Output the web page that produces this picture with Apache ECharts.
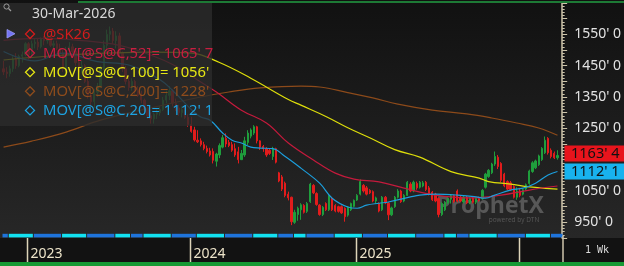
<!DOCTYPE html>
<html><head><meta charset="utf-8">
<script src="https://cdn.jsdelivr.net/npm/echarts@6/dist/echarts.min.js"></script>
<style>html,body{margin:0;padding:0;background:#161616;}#c{width:624px;height:266px;}</style>
</head><body><div id="c"></div>
<script>
// ---------- DATA ----------
const startDate = [2022, 10, 7]; // first weekly bar (UTC y, m0, d)
const opens = [
1440,1430,1425,1440,1470,1450,1480,1485,1520,1485,
1520,1525,1510,1535,1530,1540,1515,1520,1505,1490,
1440,1500,1510,1495,1460,1430,1450,1400,1355,1335,
1365,1385,1440,1515,1550,1560,1530,1545,1490,1440,
1400,1380,1400,1370,1355,1340,1310,1290,1280,1295,
1300,1310,1340,1355,1370,1330,1315,1300,1310,1285,
1262,1245,1212,1210,1198,1186,1178,1176,1145,1165,
1190,1218,1205,1198,1185,1175,1150,1165,1205,1225,
1235,1255,1210,1192,1185,1180,1160,1185,1108,1095,
1075,1040,1030,950,975,990,1004,985,1016,1068,
1042,1005,975,1010,990,1026,1004,1000,1000,995,
973,990,1001,1021,1040,1068,1060,1052,1048,1018,
1010,990,1030,1011,974,1000,1030,1050,1018,1036,
1072,1050,1074,1062,1066,1078,1060,1046,1040,1026,
975,990,1012,1024,1035,1050,1030,1015,1030,1012,
1028,1014,1026,1025,1062,1096,1108,1136,1158,1138,
1104,1080,1076,1064,1030,1050,1040,1056,1074,1112,
1124,1134,1150,1172,1218,1180,1170,1156];
const highs = [
1465,1445,1450,1480,1490,1485,1495,1525,1525,1530,
1535,1535,1540,1545,1545,1545,1530,1530,1520,1500,
1510,1525,1520,1500,1470,1465,1455,1410,1365,1375,
1395,1450,1530,1565,1575,1570,1560,1555,1495,1450,
1420,1410,1405,1385,1370,1345,1320,1300,1300,1310,
1320,1350,1370,1385,1375,1345,1325,1320,1320,1295,
1287,1255,1244,1218,1207,1195,1188,1186,1172,1202,
1229,1234,1213,1207,1202,1191,1181,1223,1244,1250,
1260,1258,1212,1197,1190,1186,1191,1188,1111,1101,
1080,1048,1032,990,1000,1011,1008,1015,1076,1072,
1046,1008,1002,1014,1040,1030,1008,1003,1004,998,
1002,1013,1023,1040,1087,1072,1066,1056,1052,1032,
1014,1034,1034,1014,1000,1034,1056,1054,1040,1082,
1078,1083,1080,1082,1082,1082,1066,1050,1044,1030,
1014,1018,1030,1040,1038,1055,1035,1034,1034,1030,
1034,1030,1032,1056,1108,1120,1140,1176,1165,1142,
1108,1084,1082,1068,1062,1060,1058,1074,1118,1145,
1150,1166,1190,1224,1222,1186,1176,1180];
const lows = [
1420,1410,1415,1430,1440,1445,1460,1480,1470,1480,
1505,1500,1505,1515,1520,1510,1505,1500,1480,1430,
1435,1495,1490,1450,1425,1425,1395,1345,1320,1315,
1350,1380,1435,1490,1530,1520,1505,1480,1430,1390,
1370,1370,1360,1350,1330,1300,1280,1265,1265,1280,
1290,1305,1330,1340,1320,1305,1290,1285,1280,1255,
1236,1208,1203,1192,1180,1170,1160,1138,1128,1155,
1186,1190,1190,1175,1159,1138,1149,1159,1197,1218,
1229,1202,1181,1175,1159,1165,1149,1138,1078,1050,
1030,1020,941,945,955,958,978,980,1012,1040,
1003,971,970,986,986,986,982,981,977,952,
968,986,998,1018,1036,1045,1036,1040,1014,1010,
982,986,1008,957,970,996,1026,1012,1014,1034,
1046,1046,1054,1058,1062,1050,1036,1018,1014,966,
970,986,1008,1010,1012,1014,1014,1010,1008,1008,
1010,1008,1016,1022,1058,1092,1104,1130,1120,1078,
1062,1052,1050,1026,1022,1030,1036,1052,1070,1108,
1120,1130,1146,1168,1166,1154,1152,1150];
const closes = [
1430,1425,1440,1470,1450,1480,1485,1520,1485,1520,
1525,1510,1535,1530,1540,1515,1520,1505,1490,1440,
1500,1510,1495,1460,1430,1450,1400,1355,1335,1365,
1385,1440,1515,1550,1560,1530,1545,1490,1440,1400,
1380,1400,1370,1355,1340,1310,1290,1280,1295,1300,
1310,1340,1355,1370,1330,1315,1300,1310,1285,1262,
1240,1213,1207,1198,1186,1176,1165,1148,1168,1195,
1220,1200,1195,1180,1165,1150,1170,1210,1235,1245,
1255,1210,1190,1185,1165,1170,1185,1142,1082,1056,
1036,1028,952,982,995,1006,982,1010,1072,1044,
1007,975,998,990,1036,990,986,985,980,968,
999,1010,1020,1036,1080,1050,1040,1044,1018,1028,
986,1030,1012,974,996,1030,1050,1016,1036,1078,
1050,1078,1060,1078,1076,1055,1040,1022,1018,975,
1010,1014,1026,1035,1016,1018,1018,1030,1012,1026,
1014,1026,1020,1052,1104,1116,1136,1160,1128,1084,
1066,1056,1054,1030,1050,1036,1054,1070,1114,1140,
1146,1162,1186,1212,1172,1160,1156,1163.5];

// moving averages: [week index, value]
const ma52 = [[0,1531],[12,1537],[24,1531],[37,1515],[47,1484],[55,1449],[60,1417],[68,1366],[76,1308],[84,1267],[91,1203],[99,1149],[106,1107],[112,1088],[120,1079],[128,1059],[138,1037],[149,1028],[159,1037],[168,1053],[177,1065.875]];
const ma100 = [[0,1468],[20,1484],[47,1493],[60,1490],[69,1460],[79,1410],[91,1342],[95,1324],[103,1288],[110,1252],[117,1220],[125,1182],[133,1158],[143,1112],[152,1091],[155,1080],[162,1072],[168,1063],[177,1056]];
const ma200 = [[0,1190],[9,1209],[20,1238],[31,1276],[47,1315],[63,1350],[72,1366],[82,1379],[95,1385],[101,1382],[110,1364],[118,1347],[126,1327],[137,1308],[148,1296],[156,1283],[164,1267],[171,1251],[177,1228]];
const ma20 = [[0,1495],[10,1465],[19,1490],[30,1463],[40,1452],[50,1405],[55,1361],[60,1310],[63,1286],[66,1276],[70,1235],[73,1212],[76,1203],[79,1190],[82,1187],[86,1185],[90,1160],[95,1123],[101,1075],[105,1027],[110,999],[113,995],[116,1005],[120,1011],[123,1015],[130,1031],[133,1037],[138,1040],[145,1037],[151,1031],[154,1027],[157,1037],[162,1053],[166,1059],[170,1075],[174,1101],[177,1112.125]];

// contract strip boundaries (week index) and year starts
const stripBounds = [0,2,10,19,27,36,41,45,54,62,71,80,88,93,97,106,115,123,132,141,145,149,158,167,175,179];
const yearStarts = [8,60,113,165];
const yearLabels = ['2023','2024','2025',''];
const symbolName = '@SK26';
const maNames = ['MOV[@S@C,52]','MOV[@S@C,100]','MOV[@S@C,200]','MOV[@S@C,20]'];
const periodLabel = '1 Wk';

// ---------- BUILD ----------
const N = closes.length;
const categories = [];
const t0 = Date.UTC(startDate[0], startDate[1], startDate[2]);
for (let i = 0; i <= N; i++) categories.push(new Date(t0 + i * 7 * 86400000).toISOString().slice(0, 10));
const candles = closes.map((c, i) => [opens[i], c, lows[i], highs[i]]);
const MON = ['Jan','Feb','Mar','Apr','May','Jun','Jul','Aug','Sep','Oct','Nov','Dec'];
const lastDate = new Date(categories[N - 1] + 'T00:00:00Z');
const dateText = String(lastDate.getUTCDate()).padStart(2,'0') + '-' + MON[lastDate.getUTCMonth()] + '-' + lastDate.getUTCFullYear();
function q(v, keepZero) {
  const w = Math.floor(v + 1e-9); const e = Math.round((v - w) * 8);
  if (e === 0 && !keepZero) return w + "'";
  return w + "' " + e;
}
const FONT = '"Noto Sans","DejaVu Sans",sans-serif';
const UP = '#1f9e3c', DOWN = '#e21c1c';
const C52 = '#c41a3c', C100 = '#dede0a', C200 = '#8c4a1a', C20 = '#1c9edc';
const AXC = '#cfc6ac';

const chart = echarts.init(document.getElementById('c'), null, {renderer: 'canvas', width: 624, height: 266});
const GL = 2, GW = 561;
const option = {
  animation: false,
  backgroundColor: '#161616',
  grid: [
    {left: GL, top: 3, width: GW, height: 235},
    {left: GL, top: 233.8, width: GW, height: 3.6},
    {left: GL, top: 238, width: GW, height: 24}
  ],
  xAxis: [
    {type: 'category', gridIndex: 0, data: categories, boundaryGap: true, show: false},
    {type: 'value', gridIndex: 1, min: 0, max: N + 1, show: false},
    {type: 'value', gridIndex: 2, min: 0, max: N + 1, interval: 1, position: 'top',
      axisLine: {show: false}, axisTick: {show: true, inside: true, length: 2, lineStyle: {color: '#808080'}},
      axisLabel: {show: false}, splitLine: {show: false}}
  ],
  yAxis: [
    {type: 'value', gridIndex: 0, position: 'right', min: 900, max: 1650, interval: 50,
      axisLine: {show: true, lineStyle: {color: AXC, width: 1.5}},
      axisTick: {show: true, length: 5, lineStyle: {color: AXC}},
      minorTick: {show: true, splitNumber: 5, length: 2.5, lineStyle: {color: AXC}},
      splitLine: {show: false},
      axisLabel: {margin: 12, color: '#e2e2e2', fontFamily: FONT, fontSize: 14,
        formatter: v => (v % 100 === 50 && v !== 1150 && v !== 1650) ? q(v, true) : ''}},
    {type: 'value', gridIndex: 1, min: 0, max: 1, show: false},
    {type: 'value', gridIndex: 2, min: 0, max: 1, show: false}
  ],
  series: [
    {type: 'candlestick', name: symbolName, xAxisIndex: 0, yAxisIndex: 0, data: candles, barWidth: 1.8, z: 2,
      itemStyle: {color: UP, color0: DOWN, borderColor: UP, borderColor0: DOWN, borderWidth: 1}},
    {type: 'line', name: maNames[2], data: ma200, smooth: 0.4, showSymbol: false, z: 3, lineStyle: {color: C200, width: 1.2}},
    {type: 'line', name: maNames[1], data: ma100, smooth: 0.4, showSymbol: false, z: 3, lineStyle: {color: C100, width: 1.2}},
    {type: 'line', name: maNames[0], data: ma52, smooth: 0.4, showSymbol: false, z: 3, lineStyle: {color: C52, width: 1.2}},
    {type: 'line', name: maNames[3], data: ma20, smooth: 0.4, showSymbol: false, z: 3, lineStyle: {color: C20, width: 1.2}},
    {type: 'custom', xAxisIndex: 1, yAxisIndex: 1, z: 5,
      data: stripBounds.slice(0, -1).map((s, k) => [s, stripBounds[k + 1], k % 2]),
      encode: {x: [0, 1]},
      renderItem: (params, api) => {
        const a = api.coord([api.value(0), 0]);
        const b = api.coord([api.value(1), 1]);
        return {type: 'rect', shape: {x: a[0] + 0.5, y: b[1], width: b[0] - a[0] - 1, height: a[1] - b[1]},
          style: {fill: api.value(2) === 0 ? '#1e74dc' : '#12e2f2'}};
      }},
    {type: 'custom', xAxisIndex: 2, yAxisIndex: 2, z: 5,
      data: yearStarts.map((s, k) => [s, k]),
      encode: {x: 0},
      renderItem: (params, api) => {
        const a = api.coord([api.value(0), 0]);
        const b = api.coord([api.value(0), 1]);
        const x = Math.round(a[0]) + 0.5;
        return {type: 'group', children: [
          {type: 'line', shape: {x1: x, y1: b[1], x2: x, y2: a[1]}, style: {stroke: '#ddd4b8', lineWidth: 1.5}},
          {type: 'text', style: {text: yearLabels[api.value(1)], x: x + 3, y: (a[1] + b[1]) / 2 + 4,
            fill: '#ece3c8', font: '14px ' + FONT, verticalAlign: 'middle'}}
        ]};
      }}
  ]
};
chart.setOption(option);

// ---------- OVERLAYS ----------
const lastClose = closes[N - 1];
const ma20Last = ma20[ma20.length - 1][1];
const yBlue = chart.convertToPixel({yAxisIndex: 0}, ma20Last);
const yRed = chart.convertToPixel({yAxisIndex: 0}, lastClose);
const TH = 16;
const blueTop = yBlue - TH / 2;
const redTop = Math.min(yRed - TH / 2, blueTop - 2 - TH);
const axX = GL + GW;

const legendRows = [
  {text: symbolName, color: '#d21c1c'},
  {text: maNames[0] + '= ' + q(ma52[ma52.length - 1][1]), color: '#c81e40'},
  {text: maNames[1] + '= ' + q(ma100[ma100.length - 1][1]), color: '#e6e614'},
  {text: maNames[2] + '= ' + q(ma200[ma200.length - 1][1]), color: '#8e4c1c'},
  {text: maNames[3] + '= ' + q(ma20Last), color: '#1ea2e0'}
];
const g = [];
g.push({type: 'rect', z: -10, silent: true, shape: {x: 0, y: 0, width: 624, height: 238},
  style: {fill: new echarts.graphic.LinearGradient(0, 0, 0, 1, [{offset: 0, color: '#111111'}, {offset: 1, color: '#272727'}])}});
g.push({type: 'rect', z: -5, silent: true, shape: {x: 0, y: 238, width: 624, height: 24}, style: {fill: '#121212'}});
g.push({type: 'line', z: 6, shape: {x1: axX, y1: 236, x2: axX, y2: 262}, style: {stroke: AXC, lineWidth: 1.5}});
g.push({type: 'text', z: 6, style: {text: periodLabel, x: 597, y: 250, fill: '#dcdcdc', font: '10px "DejaVu Sans Mono",monospace', align: 'center', verticalAlign: 'middle'}});
g.push({type: 'rect', z: 10, shape: {x: 0, y: 262, width: 624, height: 4}, style: {fill: '#169a34'}});
g.push({type: 'rect', z: 10, shape: {x: 78, y: 1, width: 546, height: 2}, style: {fill: '#1d7a35'}});
// watermark
g.push({type: 'text', z: -1, style: {text: 'ProphetX', x: 490, y: 206, fill: 'rgba(100,100,100,0.8)', font: 'bold 23px "Open Sans",sans-serif', align: 'center', verticalAlign: 'middle'}});
g.push({type: 'text', z: -1, style: {text: 'powered by DTN', x: 514, y: 220, fill: 'rgba(100,100,100,0.8)', font: '6.5px "Open Sans",sans-serif', align: 'center', verticalAlign: 'middle'}});
// legend overlay
g.push({type: 'rect', z: 50, shape: {x: 0, y: 3, width: 212, height: 123}, style: {fill: 'rgba(44,44,44,0.8)'}});
g.push({type: 'circle', z: 51, shape: {cx: 6.5, cy: 6.5, r: 2.6}, style: {fill: 'none', stroke: '#9c9c9c', lineWidth: 1}});
g.push({type: 'line', z: 51, shape: {x1: 8.5, y1: 8.5, x2: 11, y2: 11}, style: {stroke: '#9c9c9c', lineWidth: 1.2}});
g.push({type: 'text', z: 51, style: {text: dateText, x: 32, y: 14.5, fill: '#d8d8d8', font: '14px ' + FONT, verticalAlign: 'middle'}});
g.push({type: 'polygon', z: 51, shape: {points: [[7, 29.5], [7, 38], [15, 33.7]]}, style: {fill: '#7474f4', stroke: '#9a9af8', lineWidth: 0.8}});
legendRows.forEach((r, k) => {
  const y = 34 + k * 19.1;
  g.push({type: 'polygon', z: 51, shape: {points: [[30, y - 4.5], [34.5, y], [30, y + 4.5], [25.5, y]]}, style: {fill: 'none', stroke: r.color, lineWidth: 1.3}});
  g.push({type: 'text', z: 51, style: {text: r.text, x: 43, y: y + 0.5, fill: r.color, font: '14.8px ' + FONT, verticalAlign: 'middle'}});
});
// price tags
g.push({type: 'rect', z: 60, shape: {x: axX + 1.5, y: redTop, width: 624 - axX - 1.5, height: TH}, style: {fill: '#e8141c'}});
g.push({type: 'text', z: 61, style: {text: q(lastClose, true), x: 571, y: redTop + TH / 2 + 0.5, fill: '#111', font: '14.5px ' + FONT, verticalAlign: 'middle'}});
g.push({type: 'rect', z: 60, shape: {x: axX + 1.5, y: blueTop, width: 624 - axX - 1.5, height: TH}, style: {fill: '#18b2ee'}});
g.push({type: 'text', z: 61, style: {text: q(ma20Last, true), x: 571, y: blueTop + TH / 2 + 0.5, fill: '#111', font: '14.5px ' + FONT, verticalAlign: 'middle'}});
chart.setOption({graphic: {elements: g}});
</script>
</body></html>
